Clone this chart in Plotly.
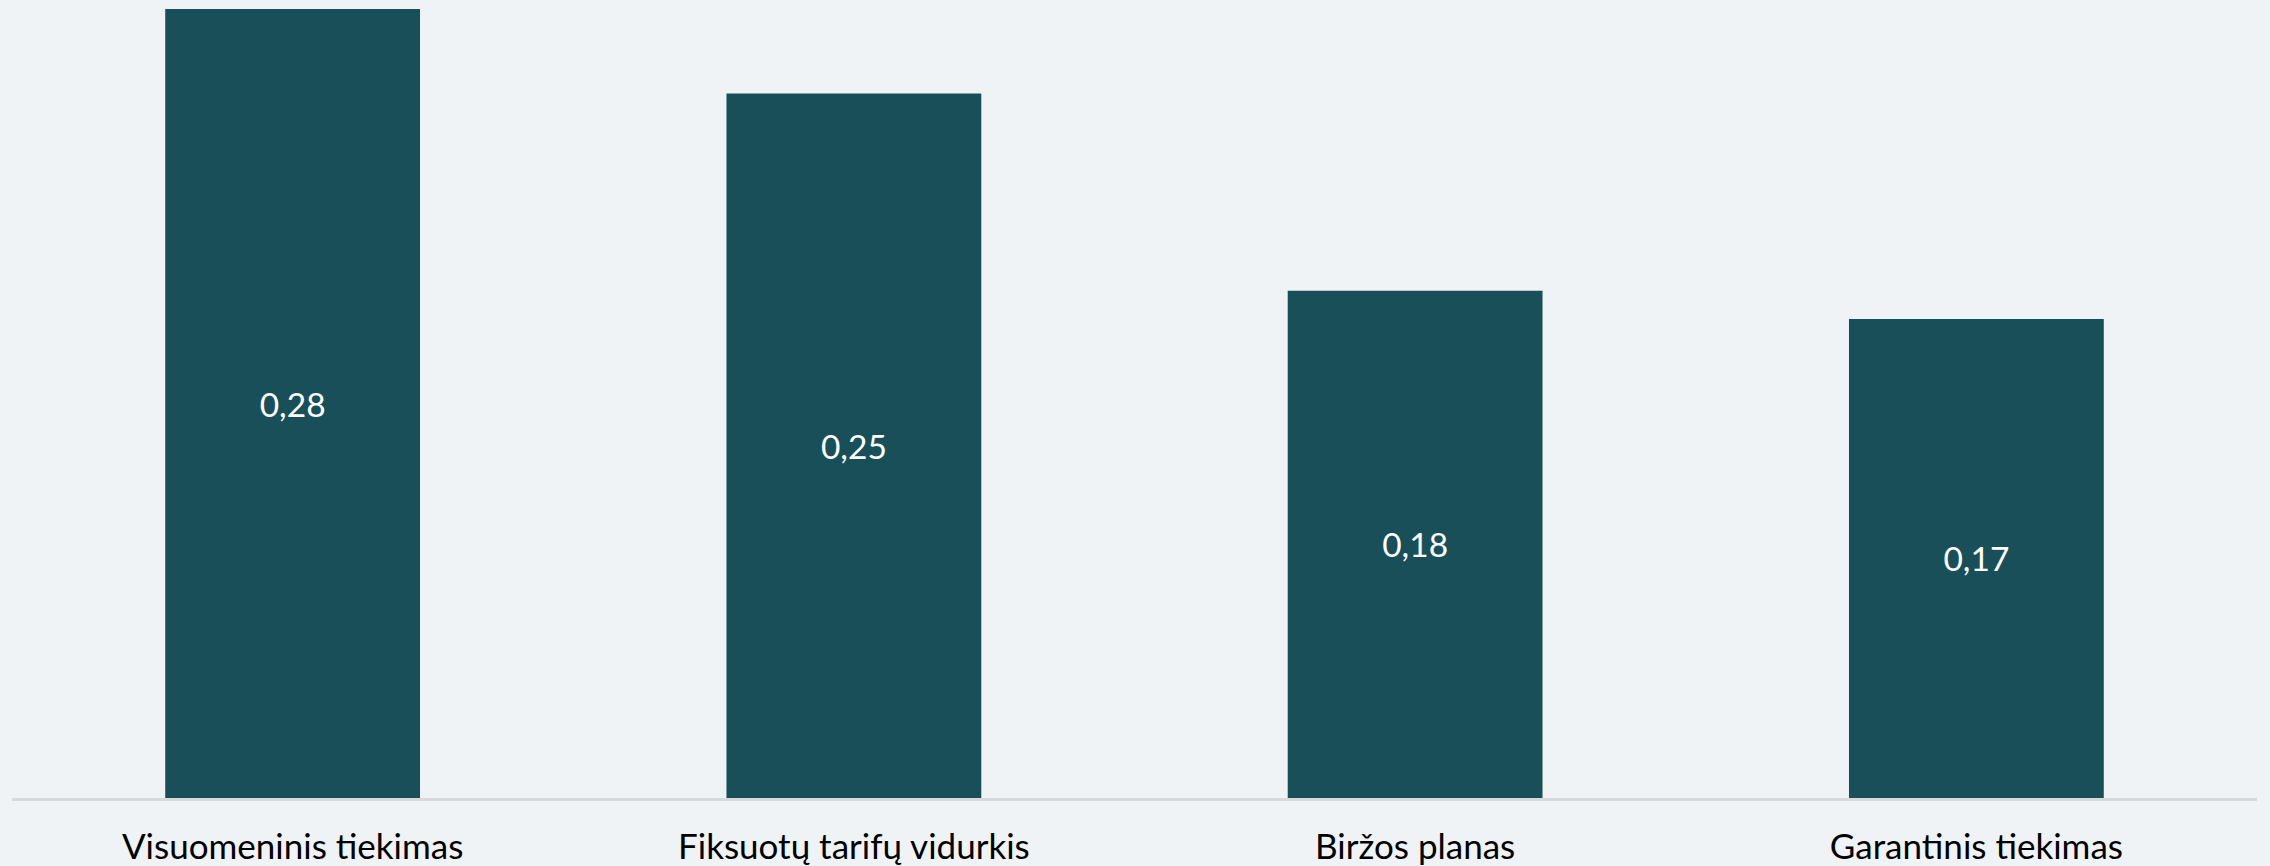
import plotly.graph_objects as go

categories = ["Visuomeninis tiekimas", "Fiksuotų tarifų vidurkis", "Biržos planas", "Garantinis tiekimas"]
values = [0.28, 0.25, 0.18, 0.17]
labels = ["0,28", "0,25", "0,18", "0,17"]

BG = "#EFF3F6"
BAR = "#184F58"
FONT = "Lato, 'Open Sans', sans-serif"

fig = go.Figure(go.Bar(
    x=categories, y=values, text=labels,
    textposition="inside", insidetextanchor="middle",
    textfont=dict(family=FONT, size=33.5, color="#FFFFFF"),
    marker=dict(color=BAR, line=dict(width=0)),
    hoverinfo="skip",
))

fig.update_layout(
    width=2270, height=866,
    margin=dict(l=12, r=13, t=9, b=68, autoexpand=False),
    paper_bgcolor=BG, plot_bgcolor=BG,
    bargap=0.546,
    showlegend=False,
)
fig.update_xaxes(
    showline=True, linecolor="#D9D9D9", linewidth=2.7,
    showgrid=False, zeroline=False, ticks="",
    automargin=False,
    ticklabelstandoff=16,
    tickfont=dict(family=FONT, size=35, color="#000000"),
)
fig.update_yaxes(
    range=[0, 0.28], visible=False, showgrid=False, zeroline=False,
    automargin=False,
)

fig.write_html(
    "out.html",
    config={"displayModeBar": False, "staticPlot": True},
    post_script="document.body.style.margin='0';document.body.style.background='#EFF3F6';",
)
